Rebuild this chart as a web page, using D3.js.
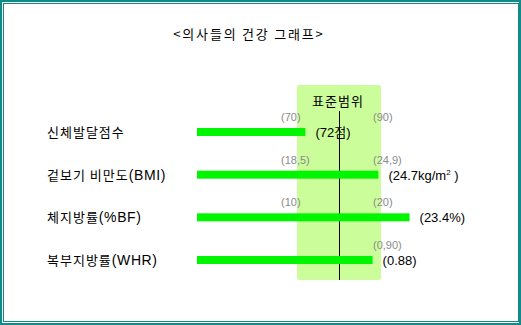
<!DOCTYPE html>
<html>
<head>
<meta charset="utf-8">
<script src="https://cdn.jsdelivr.net/npm/d3@7"></script>
<style>
  html, body { margin: 0; padding: 0; background: #fff; }
  svg { display: block; font-family: "Noto Sans CJK KR", "Noto Sans", sans-serif; }
  .num { font-family: "Liberation Sans", "Noto Sans CJK KR", sans-serif; }
</style>
</head>
<body>
<svg id="chart" width="521" height="325"></svg>
<script>
// Health indicators and their standard ranges
const title = "<의사들의 건강 그래프>";
const rangeTitle = "표준범위";
const categories = ["신체발달점수", "겉보기 비만도(BMI)", "체지방률(%BF)", "복부지방률(WHR)"];
const values = [72, 24.7, 23.4, 0.88];
const rangeLow = [70, 18.5, 10, 0.70];
const rangeHigh = [90, 24.9, 20, 0.90];
const lowLabels = ["(70)", "(18,5)", "(10)", ""];
const highLabels = ["(90)", "(24,9)", "(20)", "(0,90)"];
const valueLabels = ["(72점)", "(24.7kg/m", "(23.4%)", "(0.88)"];
const valueSup = ["", "2", "", ""];
const valueTail = ["", " )", "", ""];

const svg = d3.select("#chart");
const W = 521, H = 325;

// double teal frame
svg.append("rect").attr("x", 1).attr("y", 1).attr("width", W - 2).attr("height", H - 2)
  .attr("fill", "none").attr("stroke", "#118a8a").attr("stroke-width", 2);
svg.append("rect").attr("x", 3.5).attr("y", 3.5).attr("width", 515).attr("height", 318)
  .attr("fill", "none").attr("stroke", "#118a8a").attr("stroke-width", 1);

svg.append("text").attr("x", 249).attr("y", 39).attr("text-anchor", "middle")
  .attr("font-size", 13).attr("letter-spacing", 1.8).attr("fill", "#000").text(title);

// standard-range band, shared by every row
const bandLeft = 297, bandRight = 381, bandTop = 85, bandBottom = 280;
const barStart = 197, barH = 8;

svg.append("rect").attr("x", bandLeft).attr("y", bandTop)
  .attr("width", bandRight - bandLeft).attr("height", bandBottom - bandTop)
  .attr("rx", 2).attr("fill", "#ccfd9b");
svg.append("text").attr("x", (bandLeft + bandRight) / 2 - 1).attr("y", 106)
  .attr("text-anchor", "middle").attr("font-size", 13).attr("letter-spacing", 1)
  .attr("fill", "#000").text(rangeTitle);
svg.append("line").attr("x1", 339.5).attr("x2", 339.5).attr("y1", 111).attr("y2", bandBottom)
  .attr("stroke", "#000").attr("stroke-width", 1);

const y = d3.scalePoint().domain(categories).range([132, 260]);

// each row maps its own standard range onto the band
const xScales = categories.map((c, i) =>
  d3.scaleLinear().domain([rangeLow[i], rangeHigh[i]]).range([bandLeft, bandRight]));

const rows = svg.selectAll("g.row").data(categories).join("g").attr("class", "row");

// category name: Hangul part, then the bracketed abbreviation
const cat = rows.append("text")
  .attr("x", 47).attr("y", d => y(d) + 5)
  .attr("font-size", 13).attr("fill", "#000");
cat.append("tspan").attr("letter-spacing", 1)
  .text(d => d.indexOf("(") >= 0 ? d.slice(0, d.indexOf("(")) : d);
cat.append("tspan").attr("class", "num").attr("font-size", 14).attr("letter-spacing", 0.6)
  .text(d => d.indexOf("(") >= 0 ? d.slice(d.indexOf("(")) : "");

rows.append("rect")
  .attr("x", barStart)
  .attr("y", d => y(d) - barH / 2)
  .attr("width", (d, i) => xScales[i](values[i]) - barStart)
  .attr("height", barH)
  .attr("fill", "#00f500");

rows.append("text").attr("class", "num")
  .attr("x", bandLeft - 16).attr("y", d => y(d) - 11)
  .attr("font-size", 11).attr("fill", "#8a8a8a")
  .text((d, i) => lowLabels[i]);

rows.append("text").attr("class", "num")
  .attr("x", bandRight - 8).attr("y", d => y(d) - 11)
  .attr("font-size", 11).attr("fill", "#8a8a8a")
  .text((d, i) => highLabels[i]);

const vt = rows.append("text").attr("class", "num")
  .attr("x", (d, i) => xScales[i](values[i]) + 10)
  .attr("y", d => y(d) + 5)
  .attr("font-size", 13).attr("fill", "#000");
vt.append("tspan").text((d, i) => valueLabels[i]);
vt.append("tspan").attr("dy", -5).attr("font-size", 8).text((d, i) => valueSup[i]);
vt.append("tspan").attr("dy", 5).text((d, i) => valueTail[i]);
</script>
</body>
</html>
